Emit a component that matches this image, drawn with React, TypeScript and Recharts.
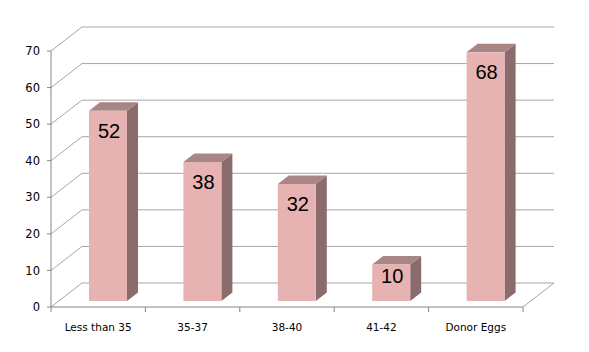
import React from 'react';
import { BarChart, Bar, XAxis, YAxis, CartesianGrid, LabelList } from 'recharts';

const categories = ['Less than 35', '35-37', '38-40', '41-42', 'Donor Eggs'];
const rates = [52, 38, 32, 10, 68];
const yTicks = [0, 10, 20, 30, 40, 50, 60, 70];

const data = categories.map((name, i) => ({ name, rate: rates[i] }));

const W = 589;
const H = 352;
const MARGIN = { top: 51, right: 66, bottom: 15, left: 0 };
const Y_W = 51;
const X_H = 30;
const PLOT_W = W - MARGIN.left - MARGIN.right - Y_W;
const PLOT_BOTTOM = H - MARGIN.bottom - X_H;
const BAND = PLOT_W / categories.length;

// fake 3D: depth of the walls and of the bars
const WALL_DX = 31;
const WALL_DY = -24;
const BAR_SHIFT_X = 10;
const BAR_SHIFT_Y = -6;
const BAR_DX = 11;
const BAR_DY = -8.5;

const FRONT = '#e6b2b2';
const SIDE = '#8c6b6c';
const TOP = '#a98586';
const GRID = '#a6a6a6';
const AXIS = '#868686';
const FONT = '"DejaVu Sans", Verdana, sans-serif';
const LABEL_FONT = '"Liberation Sans", Arial, sans-serif';

const renderGridLine = (props: any) => {
  const { x1, y1, x2 } = props;
  const by = y1 + WALL_DY;
  let d = `M${x1},${y1}L${x1 + WALL_DX},${by}L${x2 + WALL_DX},${by}`;
  if (Math.abs(y1 - PLOT_BOTTOM) < 1) d += `L${x2},${y1}`;
  return <path key={`grid-${y1}`} d={d} fill="none" stroke={GRID} strokeWidth={1} />;
};

const Bar3D = (props: any) => {
  const { x, y, width, height } = props;
  if (!height) return null;
  const fx = x + BAR_SHIFT_X;
  const fy = y + BAR_SHIFT_Y;
  const b = fy + height;
  const r = fx + width;
  return (
    <g>
      <polygon
        points={`${r},${fy} ${r + BAR_DX},${fy + BAR_DY} ${r + BAR_DX},${b + BAR_DY} ${r},${b}`}
        fill={SIDE}
      />
      <polygon
        points={`${fx},${fy} ${fx + BAR_DX},${fy + BAR_DY} ${r + BAR_DX},${fy + BAR_DY} ${r},${fy}`}
        fill={TOP}
      />
      <rect x={fx} y={fy} width={width} height={height} fill={FRONT} />
    </g>
  );
};

const renderValue = (props: any) => {
  const { x, y, width, height, value } = props;
  const cx = x + BAR_SHIFT_X + width / 2 + 1;
  const top = y + BAR_SHIFT_Y;
  const by = top + Math.min(27, height * 0.5);
  return (
    <text x={cx} y={by} textAnchor="middle" fontSize={20} fontFamily={LABEL_FONT} fill="#000">
      {value}
    </text>
  );
};

const CategoryTick = (props: any) => {
  const { x, y, payload, index } = props;
  const left = x - BAND / 2;
  const right = x + BAND / 2;
  return (
    <g>
      <line x1={left} y1={y} x2={left} y2={y + 5} stroke={AXIS} />
      {index === categories.length - 1 && <line x1={right} y1={y} x2={right} y2={y + 5} stroke={AXIS} />}
      <text x={x} y={y + 24} textAnchor="middle" fontSize={10.5} fontFamily={FONT} fill="#000">
        {payload.value}
      </text>
    </g>
  );
};

export default function App() {
  return (
    <div style={{ position: 'absolute', left: 0, top: 0, width: W, height: H, background: '#fff' }}>
      <BarChart width={W} height={H} data={data} margin={MARGIN}>
        <CartesianGrid vertical={false} horizontal={renderGridLine} />
        <XAxis
          dataKey="name"
          height={X_H}
          interval={0}
          tickLine={false}
          tickSize={0}
          tickMargin={0}
          axisLine={{ stroke: AXIS }}
          tick={<CategoryTick />}
        />
        <YAxis
          width={Y_W}
          domain={[0, 70]}
          ticks={yTicks}
          interval={0}
          tickSize={4}
          tickMargin={7}
          axisLine={{ stroke: AXIS }}
          tickLine={{ stroke: AXIS }}
          tick={{ fontSize: 11.5, fontFamily: FONT, fill: '#000' }}
        />
        <Bar dataKey="rate" barSize={38} shape={Bar3D} isAnimationActive={false}>
          <LabelList dataKey="rate" content={renderValue} />
        </Bar>
      </BarChart>
    </div>
  );
}
